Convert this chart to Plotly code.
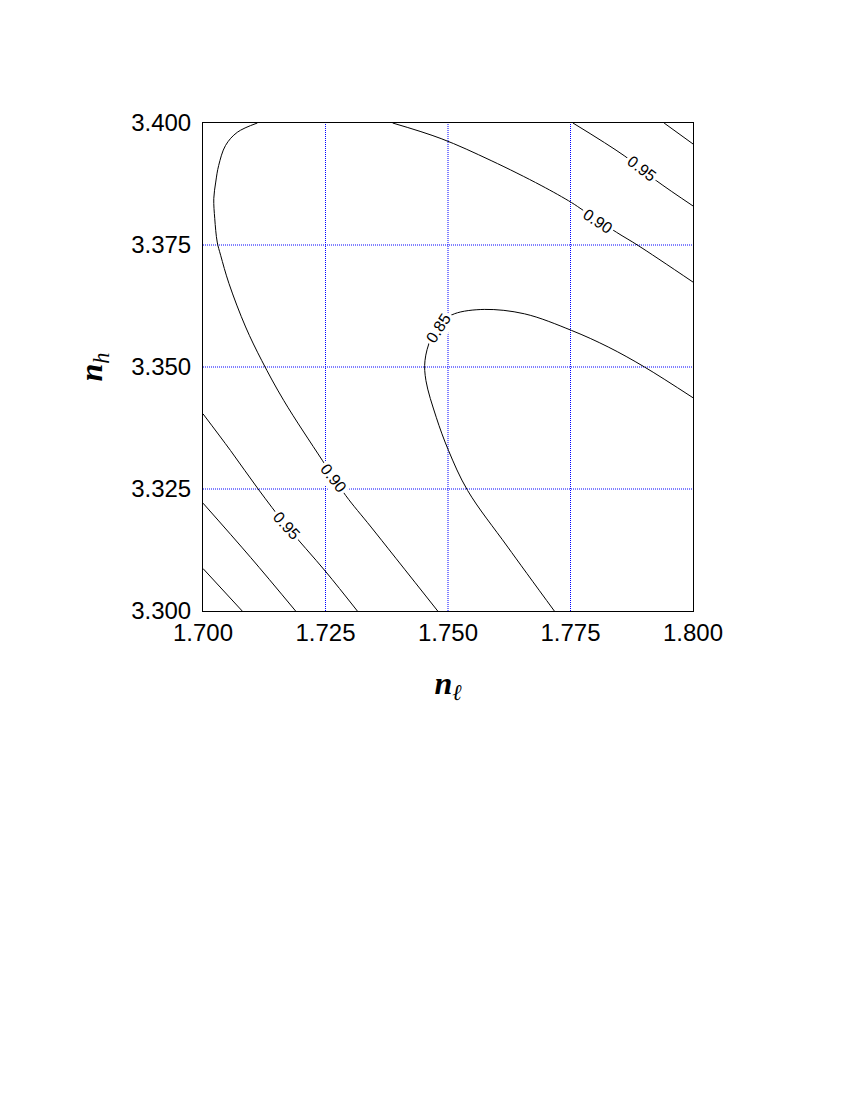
import plotly.graph_objects as go

# contour lines (x = n_l, y = n_h)
c085_x = [1.8000, 1.7901, 1.7827, 1.7752, 1.7656, 1.7574, 1.7513, 1.7486, 1.7465,
          1.7453, 1.7455, 1.7476, 1.7501, 1.7540, 1.7622, 1.7717]
c085_y = [3.3437, 3.3500, 3.3541, 3.3575, 3.3609, 3.3618, 3.3609, 3.3591, 3.3558,
          3.3513, 3.3472, 3.3397, 3.3329, 3.3247, 3.3131, 3.3000]

c090a_x = [1.7111, 1.7070, 1.7046, 1.7032, 1.7026, 1.7022, 1.7024, 1.7029, 1.7036,
           1.7053, 1.7087, 1.7120, 1.7165, 1.7244, 1.7291, 1.7343, 1.7479]
c090a_y = [3.4000, 3.3981, 3.3954, 3.3913, 3.3879, 3.3845, 3.3804, 3.3756, 3.3729,
           3.3671, 3.3582, 3.3513, 3.3431, 3.3308, 3.3237, 3.3172, 3.3000]

c090b_x = [1.7387, 1.7486, 1.7588, 1.7690, 1.7752, 1.7776, 1.7844, 1.7888, 1.8000]
c090b_y = [3.4000, 3.3968, 3.3923, 3.3872, 3.3837, 3.3821, 3.3776, 3.3749, 3.3674]

c095a_x = [1.7000, 1.7056, 1.7114, 1.7169, 1.7251, 1.7315]
c095a_y = [3.3404, 3.3329, 3.3248, 3.3176, 3.3080, 3.3000]

c095b_x = [1.7755, 1.7861, 1.7925, 1.8000]
c095b_y = [3.4000, 3.3932, 3.3882, 3.3830]

c100a_x = [1.7000, 1.7097, 1.7189]
c100a_y = [3.3221, 3.3110, 3.3000]

c100b_x = [1.7941, 1.8000]
c100b_y = [3.4000, 3.3957]

c105_x = [1.7000, 1.7080]
c105_y = [3.3087, 3.3000]

lines = [
    (c085_x, c085_y), (c090a_x, c090a_y), (c090b_x, c090b_y),
    (c095a_x, c095a_y), (c095b_x, c095b_y), (c100a_x, c100a_y),
    (c100b_x, c100b_y), (c105_x, c105_y),
]

# inline labels: text, x, y, angle
label_text = ["0.85", "0.90", "0.95", "0.90", "0.95"]
label_x = [1.7480, 1.7806, 1.7895, 1.7267, 1.7170]
label_y = [3.3579, 3.3798, 3.3906, 3.3272, 3.3175]
label_angle = [-57, 34, 37, 52, 48]

x_ticks = [1.700, 1.725, 1.750, 1.775, 1.800]
y_ticks = [3.300, 3.325, 3.350, 3.375, 3.400]

fig = go.Figure()

# blue dotted grid
grid_line = dict(color="#0000ff", width=1, dash="1px,1px")
for v in x_ticks[1:-1]:
    fig.add_vline(x=v, line=grid_line, layer="below")
for v in y_ticks[1:-1]:
    fig.add_hline(y=v, line=grid_line, layer="below")

for xs, ys in lines:
    fig.add_trace(
        go.Scatter(
            x=xs, y=ys, mode="lines",
            line=dict(color="black", width=1, shape="spline", smoothing=1.0),
            hoverinfo="skip", showlegend=False,
        )
    )

for t, x, y, a in zip(label_text, label_x, label_y, label_angle):
    fig.add_annotation(
        x=x, y=y, text=t, showarrow=False, textangle=a,
        bgcolor="white", borderpad=2,
        font=dict(family="Liberation Sans, Arial", size=16, color="black"),
    )

axis_common = dict(
    showline=True, linecolor="black", linewidth=1, mirror=True,
    showgrid=False, zeroline=False, ticks="",
    tickfont=dict(family="Liberation Sans, Arial", size=24, color="black"),
)

title_font = dict(family="Liberation Serif, Times New Roman", size=32, color="black")

fig.update_layout(
    width=850, height=1100,
    paper_bgcolor="white", plot_bgcolor="white",
    margin=dict(l=195, r=165, t=115, b=497),
    xaxis=dict(
        range=[1.7, 1.8], tickvals=x_ticks, tickformat=".3f", ticklabelstandoff=0,
        title=dict(text="<b><i>n</i></b><sub><i>ℓ</i></sub>", standoff=26, font=title_font),
        **axis_common,
    ),
    yaxis=dict(
        range=[3.3, 3.4], tickvals=y_ticks, tickformat=".3f", ticklabelstandoff=6,
        title=dict(text="<b><i>n</i></b><sub><i>h</i></sub>", standoff=18, font=title_font),
        **axis_common,
    ),
)

fig.write_html("out.html")
